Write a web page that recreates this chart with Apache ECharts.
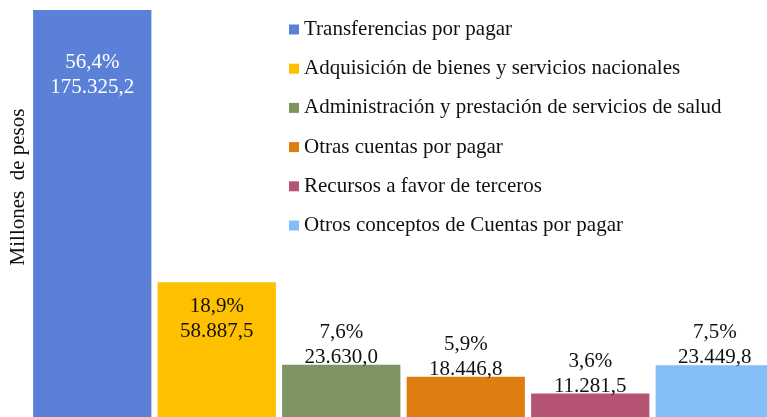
<!DOCTYPE html>
<html><head><meta charset="utf-8">
<script src="https://cdn.jsdelivr.net/npm/echarts@6/dist/echarts.min.js"></script>
<style>html,body{margin:0;padding:0;background:#fff}#c{width:767px;height:417px}</style>
</head><body><div id="c"></div>
<script>
const categories = ["Transferencias por pagar","Adquisición de bienes y servicios nacionales","Administración y prestación de servicios de salud","Otras cuentas por pagar","Recursos a favor de terceros","Otros conceptos de Cuentas por pagar"];
const values = [175325.2, 58887.5, 23630.0, 18446.8, 11281.5, 23449.8];
const percents = ["56,4%","18,9%","7,6%","5,9%","3,6%","7,5%"];
const valueLabels = ["175.325,2","58.887,5","23.630,0","18.446,8","11.281,5","23.449,8"];
const colors = ["#5A81D7","#FFC000","#7E9463","#DF7E10","#B55473","#85BDF7"];

const font = "Liberation Serif";
const labelCfg = i => {
  const base = {show:true, fontFamily:font, fontSize:21, lineHeight:25, color:'#111',
    formatter: () => percents[i] + "\n" + valueLabels[i]};
  if (i === 0) return Object.assign(base, {position:'insideTop', distance:40, color:'#fff'});
  if (i === 1) return Object.assign(base, {position:'insideTop', distance:12});
  return Object.assign(base, {position:'top', distance:-5});
};
const series = categories.map((name, i) => ({
  name, type:'bar', stack:'t', barCategoryGap:'5%',
  itemStyle:{color:colors[i]},
  label: labelCfg(i),
  data: values.map((v, j) => j === i ? v : '-')
}));
const chart = echarts.init(document.getElementById('c'));
chart.setOption({
  animation:false,
  grid:{left:30, right:-10, top:10, bottom:-3, outerBoundsMode:'none', containLabel:false},
  xAxis:{type:'category', data:categories, show:false},
  yAxis:{type:'value', min:0, max:'dataMax', show:false},
  legend:{orient:'vertical', left:284, top:14, icon:'rect', itemWidth:10, itemHeight:10, itemGap:18.2,
    textStyle:{fontFamily:font, fontSize:21, color:'#111', lineHeight:20}, data:categories},
  graphic:[{type:'text', x:18, y:187, rotation:Math.PI/2,
    style:{text:'Millones  de pesos', font:"21px 'Liberation Serif'", fill:'#111', textAlign:'center', textVerticalAlign:'middle'}}],
  series
});
</script></body></html>
